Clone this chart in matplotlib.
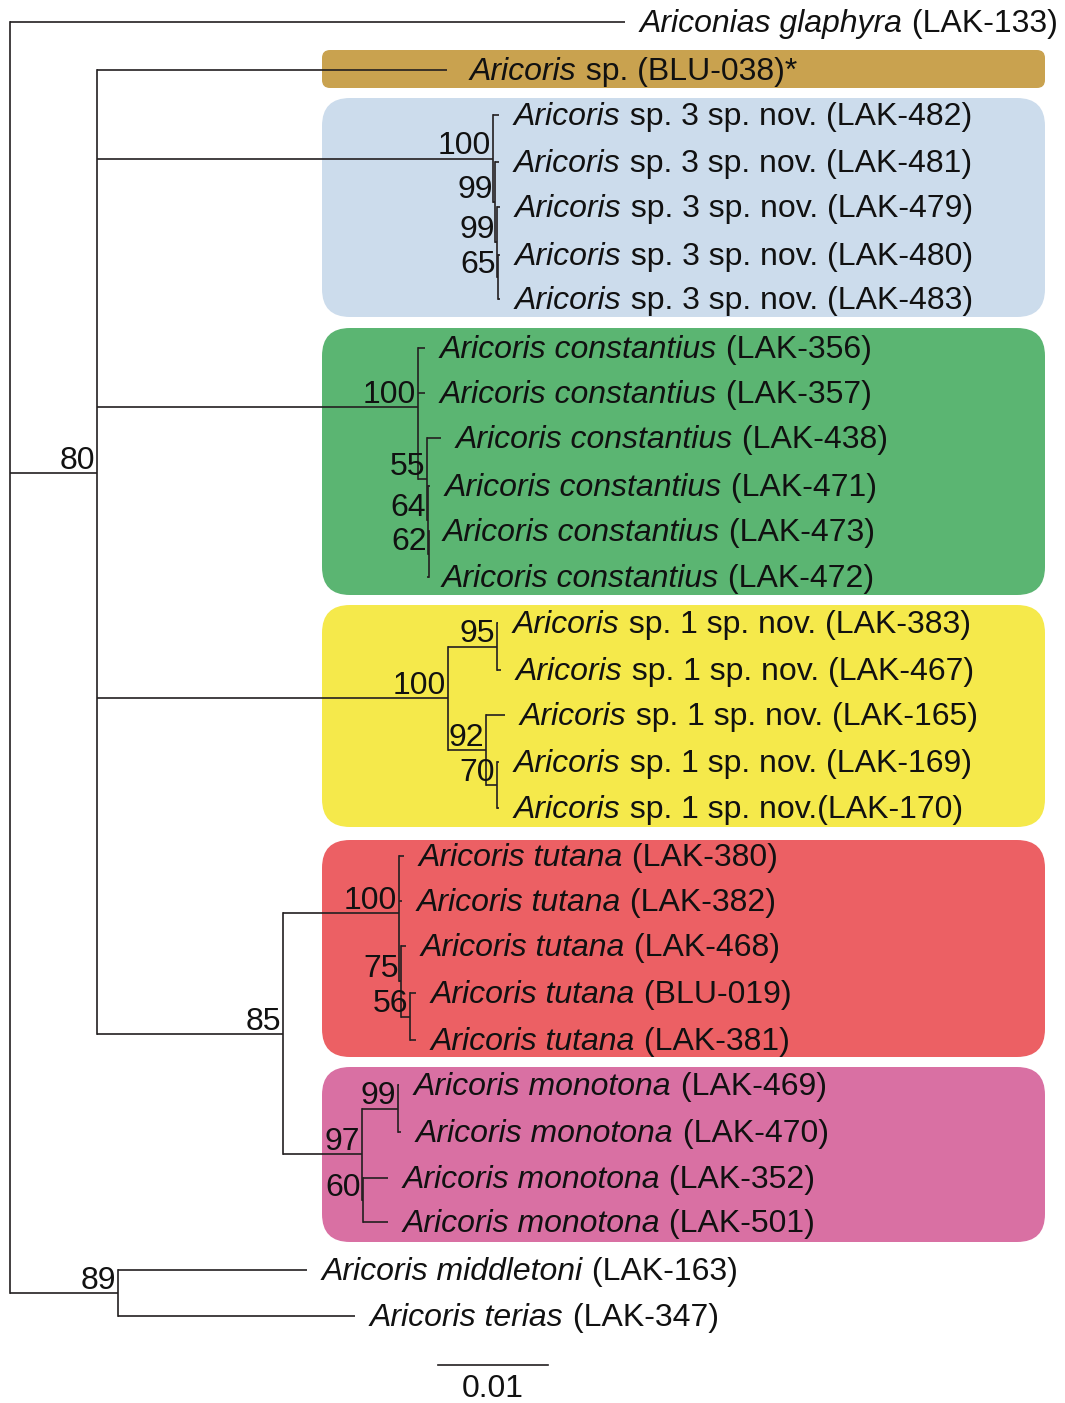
import matplotlib.pyplot as plt
from matplotlib.patches import FancyBboxPatch

plt.rcParams['font.family'] = ['Liberation Sans', 'DejaVu Sans']
plt.rcParams['font.size'] = 23

# tip labels: italic part + plain part
tip_italic = ['Ariconias glaphyra', 'Aricoris',
              'Aricoris', 'Aricoris', 'Aricoris', 'Aricoris', 'Aricoris',
              'Aricoris constantius', 'Aricoris constantius', 'Aricoris constantius',
              'Aricoris constantius', 'Aricoris constantius', 'Aricoris constantius',
              'Aricoris', 'Aricoris', 'Aricoris', 'Aricoris', 'Aricoris',
              'Aricoris tutana', 'Aricoris tutana', 'Aricoris tutana',
              'Aricoris tutana', 'Aricoris tutana',
              'Aricoris monotona', 'Aricoris monotona', 'Aricoris monotona',
              'Aricoris monotona',
              'Aricoris middletoni', 'Aricoris terias']
tip_plain = [' (LAK-133)', ' sp. (BLU-038)*',
             ' sp. 3 sp. nov. (LAK-482)', ' sp. 3 sp. nov. (LAK-481)',
             ' sp. 3 sp. nov. (LAK-479)', ' sp. 3 sp. nov. (LAK-480)',
             ' sp. 3 sp. nov. (LAK-483)',
             ' (LAK-356)', ' (LAK-357)', ' (LAK-438)', ' (LAK-471)', ' (LAK-473)',
             ' (LAK-472)',
             ' sp. 1 sp. nov. (LAK-383)', ' sp. 1 sp. nov. (LAK-467)',
             ' sp. 1 sp. nov. (LAK-165)', ' sp. 1 sp. nov. (LAK-169)',
             ' sp. 1 sp. nov.(LAK-170)',
             ' (LAK-380)', ' (LAK-382)', ' (LAK-468)', ' (BLU-019)', ' (LAK-381)',
             ' (LAK-469)', ' (LAK-470)', ' (LAK-352)', ' (LAK-501)',
             ' (LAK-163)', ' (LAK-347)']
# tip rows and branch ends (pixel units of the drawing)
tip_y = [22, 70, 115, 162, 207, 255, 299, 348, 393, 438, 486, 531, 577,
         623, 670, 715, 762, 808, 856, 901, 946, 993, 1040,
         1085, 1132, 1178, 1222, 1270, 1316]
tip_x = [625, 447, 499, 499, 500, 500, 500, 425, 425, 441, 430, 428, 427,
         498, 501, 505, 499, 499, 404, 402, 406, 416, 416,
         399, 401, 388, 388, 307, 355]
tip_gap = [15, 23] + [15] * 27

# internal nodes: (x, bootstrap, children)
tree = (10, None, [0,
    (97, 80, [1,
        (493, 100, [2, (495, 99, [3, (497, 99, [4, (498, 65, [5, 6])])])]),
        (418, 100, [7, 8, (427, 55, [9, (428, 64, [10, (429, 62, [11, 12])])])]),
        (448, 100, [(497, 95, [13, 14]), (486, 92, [15, (497, 70, [16, 17])])]),
        (283, 85, [
            (399, 100, [18, 19, (401, 75, [20, (410, 56, [21, 22])])]),
            (362, 97, [(398, 99, [23, 24]), (363, 60, [25, 26])]),
        ]),
    ]),
    (118, 89, [27, 28]),
])

# clade boxes: (top, bottom, colour)
box_top = [50, 98, 328, 605, 840, 1067]
box_bottom = [88, 317, 595, 827, 1057, 1242]
box_color = ['#C9A24F', '#CCDCEC', '#5BB572', '#F5E94B', '#EC6064', '#D970A3']
box_round = [8, 28, 28, 28, 28, 28]

scale_len = 110
scale_label = '0.01'

lc = '#231F20'
lw = 1.2
tc = '#111111'

fig = plt.figure(figsize=(10.65, 14.03), dpi=100)
ax = fig.add_axes([0, 0, 1, 1])
ax.set_xlim(0, 1065)
ax.set_ylim(1403, 0)
ax.axis('off')

for t, b, c, r in zip(box_top, box_bottom, box_color, box_round):
    ax.add_patch(FancyBboxPatch((322 + r, t + r), 1045 - 322 - 2 * r, b - t - 2 * r,
                                boxstyle=f'round,pad={r}', fc=c, ec='none', zorder=0))


def draw(node, px):
    if isinstance(node, int):
        y = tip_y[node]
        ax.plot([px, tip_x[node]], [y, y], color=lc, lw=lw, solid_capstyle='butt')
        t = ax.text(tip_x[node] + tip_gap[node], y + 2, tip_italic[node], style='italic',
                    va='center', ha='left', color=tc)
        ax.annotate(tip_plain[node], xy=(1, 0), xycoords=t, va='bottom', ha='left',
                    color=tc)
        return y
    x, sup, kids = node
    ys = [draw(k, x) for k in kids]
    y = sum(ys) / len(ys)
    ax.plot([x, x], [min(ys), max(ys)], color=lc, lw=lw)
    if px is not None:
        ax.plot([px, x], [y, y], color=lc, lw=lw, solid_capstyle='butt')
    if sup is not None:
        ax.text(x - 2, y + 3, str(sup), ha='right', va='bottom', color=tc)
    return y


draw(tree, None)

ax.plot([438, 438 + scale_len], [1365, 1365], color=lc, lw=lw)
ax.text(438 + scale_len / 2, 1374, scale_label, ha='center', va='top', color=tc)

fig.savefig('out.png', dpi=100)
